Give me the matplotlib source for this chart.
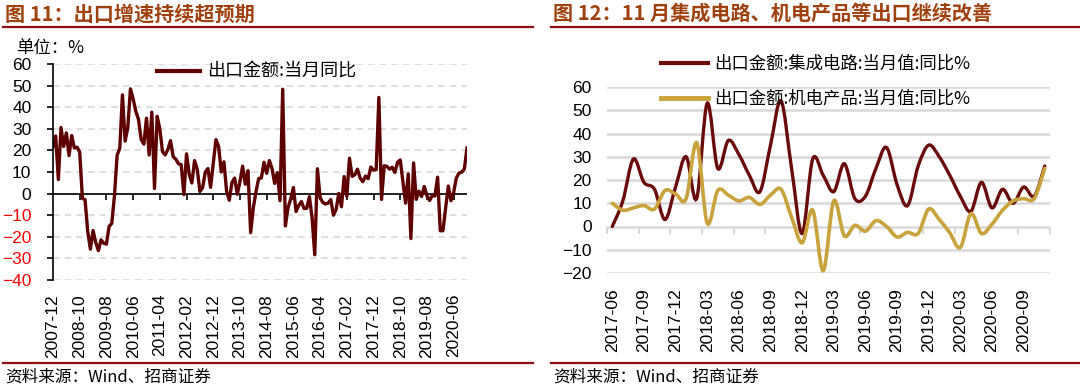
import numpy as np
import pandas as pd
import matplotlib
matplotlib.use("Agg")
import matplotlib.pyplot as plt
from matplotlib.lines import Line2D
from matplotlib.path import Path
from matplotlib.patches import PathPatch

CJK = ["Noto Sans CJK SC", "DejaVu Sans"]
LAT = ["Liberation Sans", "DejaVu Sans"]
plt.rcParams["font.family"] = CJK

# ---------- data: left chart (出口金额:当月同比, 2007-12 .. 2020-11) ----------
export_yoy = [
    21.7,
    26.7, 6.5, 30.6, 21.8, 28.1, 17.6, 26.9, 21.1, 21.5, 19.2, -2.2, -2.8,
    -17.5, -25.7, -17.1, -22.6, -26.4, -21.4, -23.0, -23.4, -15.2, -13.8, -1.2, 17.7,
    21.0, 45.7, 24.3, 30.5, 48.5, 43.9, 38.1, 34.4, 25.1, 22.9, 34.9, 17.9,
    37.7, 2.4, 35.8, 29.9, 19.4, 17.9, 20.4, 24.5, 17.1, 15.9, 13.8, 13.4,
    -0.5, 18.4, 8.9, 4.9, 15.3, 11.3, 1.0, 2.7, 9.9, 11.6, 2.9, 14.1,
    25.0, 21.8, 10.0, 14.7, 1.0, -3.1, 5.1, 7.2, -0.3, 5.6, 12.7, 4.3,
    10.6, -18.1, -6.6, 0.9, 7.0, 7.2, 14.5, 9.4, 15.3, 11.6, 4.7, 9.7,
    -3.3, 48.3, -15.0, -6.4, -2.5, 2.8, -8.3, -5.5, -3.7, -6.9, -6.8, -1.4,
    -11.2, -28.3, 11.5, -1.8, -4.1, -4.8, -4.4, -2.8, -10.0, -7.3, 0.1, -6.1,
    7.9, -1.3, 16.4, 8.0, 8.7, 11.3, 7.2, 5.5, 8.1, 6.9, 12.3, 10.9,
    11.1, 44.5, -2.7, 12.9, 12.6, 11.3, 12.2, 9.8, 14.5, 15.6, 5.4, -4.4,
    9.1, -20.8, 14.2, -2.7, 1.1, -1.3, 3.3, -1.0, -3.2, -0.9, -1.1, 7.6,
    -17.2, -17.2, -6.6, 3.5, -3.3, 0.5, 7.2, 9.5, 9.9, 11.4, 21.1,
]
export_months = pd.period_range("2007-12", "2020-11", freq="M").strftime("%Y-%m").tolist()
left_ticks = ["2007-12", "2008-10", "2009-08", "2010-06", "2011-04", "2012-02",
              "2012-12", "2013-10", "2014-08", "2015-06", "2016-04", "2017-02",
              "2017-12", "2018-10", "2019-08", "2020-06"]

# ---------- data: right chart (2017-06 .. 2020-11) ----------
ic_yoy = [0, 11, 29, 19, 16, 3, 17, 30, 12, 53, 25, 37, 31, 22, 15, 35, 54, 25,
          -3, 29, 22, 15, 27, 12, 13, 25, 34, 18, 9, 26, 35, 30, 22, 13, 6.5,
          19, 8, 16, 10, 17, 13, 26]
mech_yoy = [10, 7, 8, 9, 7.5, 15.5, 14, 12, 36, 1.5, 15.5, 13.5, 11, 12.5, 9.5,
            13.5, 16, 4, -7, 7, -19, 11, -4, 0.5, -2, 2.5, 0, -4.5, -2.5, -3,
            7.5, 3, -2.7, -9, 5.5, -3, 1, 7, 11, 12, 12, 25]
right_months = pd.period_range("2017-06", "2020-11", freq="M").strftime("%Y-%m").tolist()
right_ticks = right_months[::3]

DARK = "#5E0000"
MAROON = "#6B0A0A"
GOLD = "#C9A23C"
TITLE_C = "#A0410D"
RULE_C = "#8B1010"
GRID_C = "#D9D9D9"


def smooth_path(x, y):
    # Excel-like smoothed line: cubic bezier segments through every point
    pts = np.column_stack([np.asarray(x, float), np.asarray(y, float)])
    ext = np.vstack([pts[0], pts, pts[-1]])
    verts, codes = [pts[0]], [Path.MOVETO]
    for i in range(len(pts) - 1):
        p0, p1, p2, p3 = ext[i], ext[i + 1], ext[i + 2], ext[i + 3]
        verts += [p1 + (p2 - p0) / 6, p2 - (p3 - p1) / 6, p2]
        codes += [Path.CURVE4] * 3
    return Path(verts, codes)


W, H = 1080, 387
fig = plt.figure(figsize=(W / 100, H / 100), dpi=100)


def fx(px):
    return px / W


def fy(py):
    return 1 - py / H


# ---------- frame: titles, rules, footers ----------
for x0, x1, title in [(3, 533, "图 11：出口增速持续超预期"),
                      (551, 1080, "图 12：11 月集成电路、机电产品等出口继续改善")]:
    fig.text(fx(x0 + 2), fy(14), title, fontsize=14.5, fontweight="bold",
             color=TITLE_C, va="center", ha="left", family=CJK)
    fig.add_artist(Line2D([fx(x0), fx(x1)], [fy(27), fy(27)], color=RULE_C, lw=1.6))
    fig.add_artist(Line2D([fx(x0), fx(x1)], [fy(363), fy(363)], color=RULE_C, lw=1.6))
    fig.text(fx(x0 + 2), fy(377), "资料来源：Wind、招商证券", fontsize=12,
             color="black", va="center", ha="left", family=CJK)

fig.text(fx(16), fy(48), "单位：%", fontsize=12.5, va="center", ha="left", family=CJK)

# ---------- left chart ----------
ax1 = fig.add_axes([fx(53), fy(280), fx(467 - 53), (280 - 64) / H])
xl = np.arange(len(export_yoy))
ax1.plot(xl, export_yoy, color=DARK, lw=2.4, solid_joinstyle="round")
ax1.set_xlim(0, len(export_yoy) - 1)
ax1.set_ylim(-40, 60)
ax1.set_yticks(range(-40, 61, 10))
ax1.yaxis.grid(True, color=GRID_C, lw=1.2, ls=(0, (4, 3)))
ax1.set_axisbelow(True)
for s in ["top", "right", "bottom"]:
    ax1.spines[s].set_visible(False)
ax1.spines["left"].set_linewidth(1.2)
ax1.tick_params(axis="y", direction="out", length=4.5, width=1.2, pad=11, labelsize=12.5)
for lab in ax1.get_yticklabels():
    lab.set_family(LAT)
for lab, v in zip(ax1.get_yticklabels(), range(-40, 61, 10)):
    lab.set_color("red" if v < 0 else "black")
pos = [export_months.index(t) for t in left_ticks]
ax1.set_xticks(pos)
ax1.set_xticklabels(left_ticks, rotation=90, family=LAT, fontsize=12.5)
ax1.tick_params(axis="x", length=0, pad=10)
ax1.axhline(0, color="black", lw=1.2, zorder=1.5)
sec1 = ax1.secondary_xaxis(0, transform=ax1.transData)
sec1.spines["bottom"].set_visible(False)
sec1.set_xticks(pos[1:])
sec1.set_xticklabels([])
sec1.tick_params(length=4, width=1.2, direction="out", color="black")
ax1.legend([Line2D([], [], color=DARK, lw=3)], ["出口金额:当月同比"],
           loc="center left", bbox_to_anchor=(fx(148), fy(72)),
           bbox_transform=fig.transFigure, frameon=False,
           handlelength=2.4, handletextpad=0.4, borderpad=0,
           prop={"family": CJK, "size": 13})

# ---------- right chart ----------
ax2 = fig.add_axes([fx(607), fy(273), fx(1050 - 607), (273 - 87) / H])
xr = np.arange(len(ic_yoy))
ax2.add_patch(PathPatch(smooth_path(xr, ic_yoy), fill=False, edgecolor=MAROON,
                        lw=2.4, capstyle="round", zorder=3))
ax2.add_patch(PathPatch(smooth_path(xr, mech_yoy), fill=False, edgecolor=GOLD,
                        lw=2.6, capstyle="round", zorder=3))
ax2.set_xlim(-0.5, len(ic_yoy) - 0.5)
ax2.set_ylim(-20, 60)
ax2.set_yticks(range(-20, 61, 10))
ax2.yaxis.grid(True, color=GRID_C, lw=1.8)
ax2.set_axisbelow(True)
for s in ax2.spines.values():
    s.set_visible(False)
ax2.tick_params(axis="y", length=0, pad=11, labelsize=12.5)
for lab in ax2.get_yticklabels():
    lab.set_family(LAT)
rpos = [right_months.index(t) for t in right_ticks]
ax2.set_xticks(rpos)
ax2.set_xticklabels(right_ticks, rotation=90, family=LAT, fontsize=12.5)
ax2.tick_params(axis="x", length=0, pad=11)
sec2 = ax2.secondary_xaxis(0, transform=ax2.transData)
sec2.spines["bottom"].set_visible(False)
sec2.set_xticks([p - 0.5 for p in rpos] + [len(ic_yoy) - 0.5])
sec2.set_xticklabels([])
sec2.tick_params(length=5, width=1.5, direction="out", color=GRID_C)
ax2.legend([Line2D([], [], color=MAROON, lw=3), Line2D([], [], color=GOLD, lw=3.5)],
           ["出口金额:集成电路:当月值:同比%", "出口金额:机电产品:当月值:同比%"],
           loc="upper left", bbox_to_anchor=(fx(652), fy(46)),
           bbox_transform=fig.transFigure, frameon=False,
           handlelength=2.7, handletextpad=0.4, borderpad=0, labelspacing=1.0,
           prop={"family": CJK, "size": 12.5})

fig.savefig("out.png", dpi=100)
